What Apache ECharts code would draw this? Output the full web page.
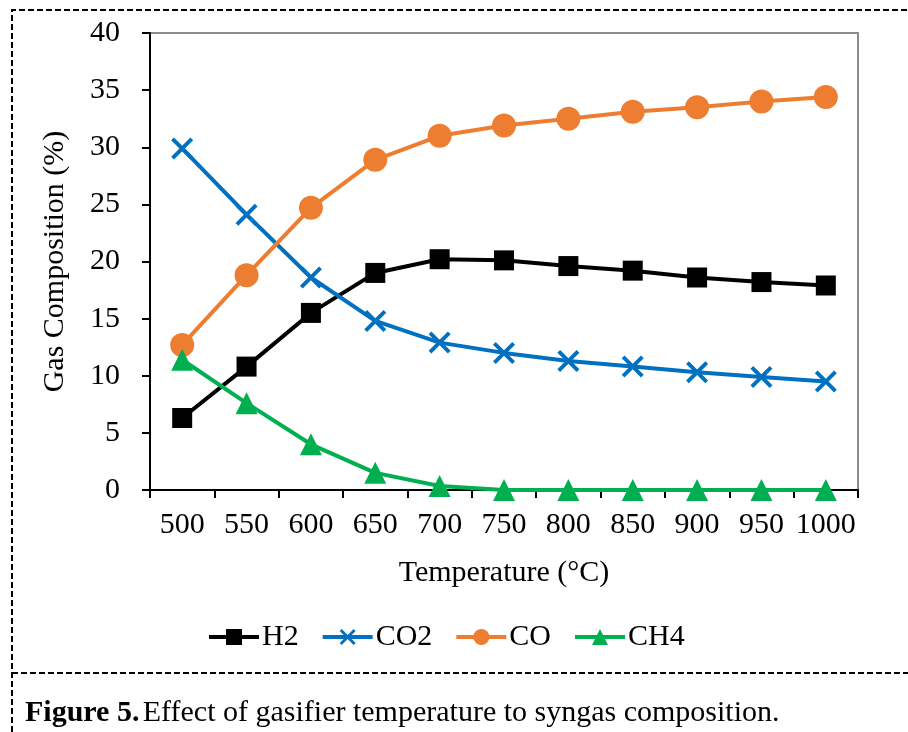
<!DOCTYPE html>
<html>
<head>
<meta charset="utf-8">
<script src="https://cdn.jsdelivr.net/npm/echarts@6/dist/echarts.min.js"></script>
<style>
  html, body { margin: 0; padding: 0; background: #fff; }
  #chart { width: 908px; height: 732px; }
</style>
</head>
<body>
<div id="chart"></div>
<script>
const temperatures = ['500', '550', '600', '650', '700', '750', '800', '850', '900', '950', '1000'];
const h2 = [6.3, 10.8, 15.5, 19.0, 20.2, 20.1, 19.6, 19.2, 18.6, 18.2, 17.9];
const co2 = [29.9, 24.1, 18.6, 14.8, 12.9, 12.0, 11.3, 10.8, 10.3, 9.9, 9.5];
const co = [12.7, 18.8, 24.7, 28.9, 31.0, 31.9, 32.5, 33.1, 33.5, 34.0, 34.4];
const ch4 = [11.4, 7.6, 4.0, 1.5, 0.35, 0, 0, 0, 0, 0, 0];

const font = 'Liberation Serif';
// filled "x" marker
const xMark = 'path://M0,2.5L2.5,0L10,7.5L17.5,0L20,2.5L12.5,10L20,17.5L17.5,20L10,12.5L2.5,20L0,17.5L7.5,10Z';

const chart = echarts.init(document.getElementById('chart'));

function line(name, data, color, symbol, size) {
  return {
    name: name,
    type: 'line',
    data: data,
    symbol: symbol,
    symbolSize: size,
    showAllSymbol: true,
    lineStyle: { color: color, width: 4 },
    itemStyle: { color: color },
    emphasis: { disabled: true }
  };
}

chart.setOption({
  animation: false,
  textStyle: { fontFamily: font },
  grid: {
    left: 150, right: 50, top: 33, bottom: 242,
    show: true, borderColor: '#8c8c8c', borderWidth: 2
  },
  legend: {
    top: 617,
    left: 202,
    itemWidth: 50,
    itemHeight: 20,
    itemGap: 22,
    lineStyle: { width: 4 },
    textStyle: { fontFamily: font, fontSize: 30, color: '#000', padding: [0, 0, 0, -2] },
    data: ['H2', 'CO2', 'CO', 'CH4']
  },
  xAxis: {
    type: 'category',
    data: temperatures,
    boundaryGap: true,
    name: 'Temperature (\u00B0C)',
    nameLocation: 'middle',
    nameGap: 68,
    nameTextStyle: { fontFamily: font, fontSize: 30, color: '#000' },
    axisLine: { lineStyle: { color: '#000', width: 2 } },
    axisTick: { show: true, interval: 0, length: 8, lineStyle: { color: '#000', width: 2 } },
    axisLabel: { fontFamily: font, fontSize: 30, color: '#000', margin: 20, interval: 0, hideOverlap: false },
    splitLine: { show: false }
  },
  yAxis: {
    type: 'value',
    min: 0, max: 40, interval: 5,
    name: 'Gas Composition (%)',
    nameLocation: 'middle',
    nameGap: 80,
    nameTextStyle: { fontFamily: font, fontSize: 30, color: '#000' },
    axisLine: { show: true, lineStyle: { color: '#000', width: 2 } },
    axisTick: { show: true, length: 8, lineStyle: { color: '#000', width: 2 } },
    axisLabel: { fontFamily: font, fontSize: 30, color: '#000', margin: 30 },
    splitLine: { show: false }
  },
  series: [
    line('H2', h2, '#000000', 'rect', 20),
    line('CO2', co2, '#0070C0', xMark, 22),
    line('CO', co, '#ED7D31', 'circle', 24),
    line('CH4', ch4, '#00B050', 'triangle', 22)
  ],
  graphic: [
    {
      type: 'polyline',
      shape: { points: [[12, 732], [12, 10], [908, 10]] },
      style: { stroke: '#000', lineWidth: 2, lineDash: [6, 3], fill: null }
    },
    {
      type: 'line',
      shape: { x1: 12, y1: 673, x2: 908, y2: 673 },
      style: { stroke: '#000', lineWidth: 2, lineDash: [6, 3] }
    },
    {
      type: 'text',
      left: 25, top: 698,
      style: {
        rich: {
          b: { fontFamily: font, fontSize: 30, fontWeight: 'bold', fill: '#000' },
          n: { fontFamily: font, fontSize: 30, fill: '#000' }
        },
        text: '{b|Figure 5.} {n|Effect of gasifier temperature to syngas composition.}'
      }
    }
  ]
});
</script>
</body>
</html>
